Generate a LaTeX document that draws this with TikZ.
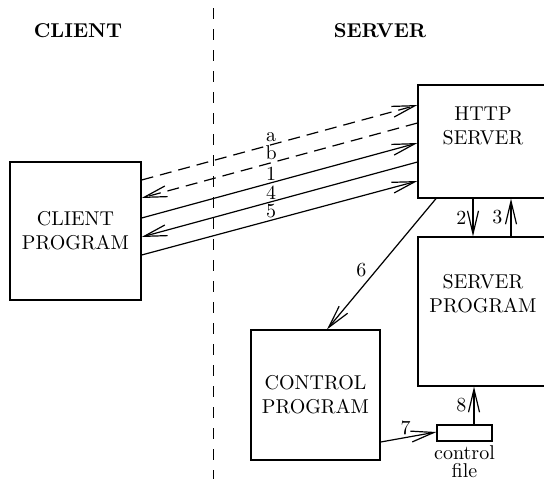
\documentclass[tikz,border=0pt]{standalone}
\usetikzlibrary{
    arrows.meta,
    positioning
}

\begin{document}
\begin{tikzpicture} [
    x=0.5pt, y=-0.5pt,
    box/.style = {draw, line width=0.6pt, align=center, inner sep=0pt},
    msg/.style = {line width=0.6pt, -{Straight Barb[length=11.5pt,width=5.5pt]}},
    dash msg/.style = {msg, dash pattern=on 6pt off 3.5pt},
    num/.style = {inner sep=1pt}
]
    \useasboundingbox (0,0) rectangle (544,479);
    \clip (0,0) rectangle (544,479);

    \node[font=\bfseries] (client title) at (78,31) {CLIENT};
    \node[font=\bfseries] (server title) at (380,31) {SERVER};

    \draw[dash pattern=on 5.5pt off 5pt, line width=0.5pt] (213,8) -- (213,479);

    \node[box, minimum width=65.5pt, minimum height=69pt] (client) at (75.5,231) {CLIENT\\PROGRAM};
    \node[box, minimum width=65pt, minimum height=56.5pt] (http) at (483,141.5) {HTTP\\SERVER\\[4pt]};
    \node[box, minimum width=65pt, minimum height=74.5pt] (server) at (483,311.5) {SERVER\\PROGRAM\\[6pt]};
    \node[box, minimum width=64.5pt, minimum height=65pt] (control) at (315.5,395) {CONTROL\\PROGRAM};
    \node[box, minimum width=27.5pt, minimum height=8pt] (file) at (464.5,433) {};
    \node[align=center, inner sep=0pt, below=2pt of file] (file text) {control\\[-3pt]file};

    % client <-> http server
    \draw[dash msg] (client.east |- 0,180) -- node[num, pos=0.47, above] {a} (http.west |- 0,105);
    \draw[dash msg] (http.west |- 0,123) -- node[num, pos=0.53, above] {b} (client.east |- 0,198);
    \draw[msg] (client.east |- 0,218) -- node[num, pos=0.47, above] {1} (http.west |- 0,143);
    \draw[msg] (http.west |- 0,162) -- node[num, pos=0.53, above] {4} (client.east |- 0,237);
    \draw[msg] (client.east |- 0,255) -- node[num, pos=0.47, above] {5} (http.west |- 0,181);

    % inside the server
    \draw[msg] (http.south -| 436,0) -- node[num, pos=0.55, left=3.5pt] {6} (control.north -| 327,0);
    \draw[msg] (http.south -| 473,0) -- node[num, left=2pt] {2} (server.north -| 473,0);
    \draw[msg] (server.north -| 511,0) -- node[num, left=3pt] {3} (http.south -| 511,0);
    \draw[msg] (control.east |- 0,442) -- node[num, pos=0.45, above=0pt] {7} (file.west |- 0,432);
    \draw[msg] (file.north -| 474,0) -- node[num, left=2.5pt] {8} (server.south -| 474,0);
\end{tikzpicture}
\end{document}
